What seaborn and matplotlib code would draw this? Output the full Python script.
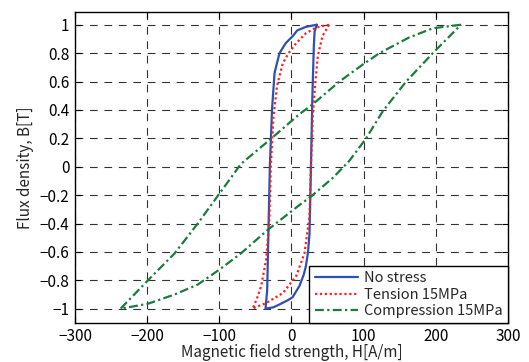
import matplotlib
matplotlib.use("Agg")
import matplotlib.pyplot as plt
import seaborn as sns
import pandas as pd
from matplotlib.ticker import FixedLocator, FixedFormatter

# ---- data ----
series_names = ["No stress", "Tension 15MPa", "Compression 15MPa"]

h_no_stress = [35, 20, 8, 1.8, -8, -16.6, -23.5, -27, -30, -32, -33.7, -36,
               -25, -16.6, -5, 1.4, 11, 17, 20, 23, 25, 27, 29, 31, 32, 35]
b_no_stress = [1, 0.985, 0.96, 0.92, 0.87, 0.80, 0.66, 0.40, 0, -0.47, -0.87, -1,
               -0.99, -0.97, -0.94, -0.92, -0.84, -0.76, -0.70, -0.60, -0.47, 0, 0.5, 0.85, 0.95, 1]

h_tension = [52, 34, 20, 6.5, -4, -12, -20, -25, -28.7, -30.5, -35, -42, -48, -54,
             -45, -35, -12, 6.5, 18, 25, 27, 29.5, 33, 36.5, 43, 52]
b_tension = [1, 0.98, 0.94, 0.87, 0.80, 0.73, 0.57, 0.35, 0, -0.35, -0.65, -0.84, -0.93, -1,
             -0.98, -0.96, -0.89, -0.77, -0.61, -0.35, 0, 0.35, 0.59, 0.78, 0.92, 1]

h_compression = [235, 196, 163, 122, 99, 66.5, 29.5, 11, -30, -70, -100, -130, -162, -199, -237,
                 -199, -162, -130, -100, -70, -33, 11, 27, 57, 80, 103.5, 126.5, 159, 196, 235]
b_compression = [1, 0.975, 0.91, 0.8, 0.72, 0.6, 0.44, 0.37, 0.19, 0.02, -0.19, -0.4, -0.61, -0.8, -1,
                 -0.965, -0.9, -0.83, -0.725, -0.61, -0.445, -0.27, -0.21, -0.08, 0.04, 0.2, 0.39, 0.6, 0.8, 1]

x_ticks = [-300, -200, -100, 0, 100, 200, 300]
x_tick_labels = ["\u2212300", "\u2212200", "\u2212100", "0", "100", "200", "300"]
y_ticks = [-1, -0.8, -0.6, -0.4, -0.2, 0, 0.2, 0.4, 0.6, 0.8, 1]
y_tick_labels = ["\u22121", "\u22120.8", "\u22120.6", "\u22120.4", "\u22120.2", "0",
                 "0.2", "0.4", "0.6", "0.8", "1"]

x_label = "Magnetic field strength, H[A/m]"
y_label = "Flux density, B[T]"

# ---- style ----
sns.set_theme(style="white")
plt.rcParams["font.family"] = ["Noto Sans CJK JP", "DejaVu Sans"]
plt.rcParams["axes.unicode_minus"] = True

fig = plt.figure(figsize=(5.29, 3.62), dpi=100)
ax = fig.add_axes([0.142, 0.108, 0.818, 0.859])

styles = [
    dict(color="#2f50b0", linestyle="-", linewidth=1.6),
    dict(color="#ff2020", linestyle=(0, (1, 1.2)), linewidth=1.6),
    dict(color="#1a7d3c", linestyle=(0, (4, 1.5, 1, 1.5)), linewidth=1.6),
]
datasets = [(h_no_stress, b_no_stress), (h_tension, b_tension), (h_compression, b_compression)]

for name, (h, b), st in zip(series_names, datasets, styles):
    df = pd.DataFrame({"H": h, "B": b})
    sns.lineplot(data=df, x="H", y="B", sort=False, estimator=None, ax=ax,
                 label=name, **st)

ax.set_xlim(-300, 300)
ax.set_ylim(-1.1, 1.09)
ax.xaxis.set_major_locator(FixedLocator(x_ticks))
ax.xaxis.set_major_formatter(FixedFormatter(x_tick_labels))
ax.yaxis.set_major_locator(FixedLocator(y_ticks))
ax.yaxis.set_major_formatter(FixedFormatter(y_tick_labels))

ax.grid(True, color="#333333", linestyle=(0, (7, 6)), linewidth=0.8)
ax.set_axisbelow(True)
for s in ax.spines.values():
    s.set_color("black")
    s.set_linewidth(1.0)
ax.tick_params(direction="in", length=4.5, width=0.8, top=True, right=True,
               bottom=True, left=True, labelsize=11, colors="black", pad=4)

ax.set_xlabel(x_label, fontsize=11, labelpad=-1)
ax.set_ylabel(y_label, fontsize=11, labelpad=4)

leg = ax.legend(loc="lower right", borderaxespad=0, fontsize=10.5, frameon=True,
                fancybox=False, edgecolor="black", framealpha=1,
                handlelength=3.0, handletextpad=0.4, borderpad=0.35, labelspacing=0.15)
leg.get_frame().set_linewidth(1.0)

fig.savefig("out.png", dpi=100)
